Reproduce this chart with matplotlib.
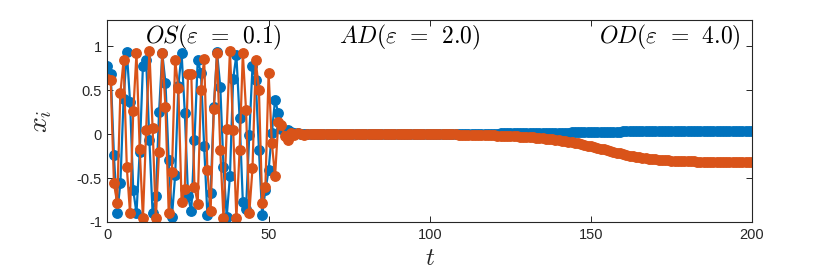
import matplotlib
matplotlib.use("Agg")
import matplotlib.pyplot as plt
import numpy as np

# ---------------- data ----------------
t = list(range(0, 201))

blue_head = [0.78, 0.69, -0.24, -0.90, -0.56, 0.40, 0.94, 0.37, -0.64, -0.90,
             -0.20, 0.78, 0.84, -0.07, -0.90, -0.71, 0.25, 0.92, 0.58, -0.30,
             -0.94, -0.47, 0.55, 0.92, 0.24, -0.71, -0.88, -0.07, 0.84, 0.70,
             -0.14, -0.92, -0.67, 0.31, 0.93, 0.54, -0.37, -0.94, -0.48, 0.63,
             0.90, 0.18, -0.77, -0.85, -0.01, 0.77, 0.62, -0.18, -0.92, -0.64,
             -0.41, 0.01, 0.39, 0.24, 0.06, 0.03, 0.05, 0.02, 0.01]
blue_tail = [0.01, 0.005, 0.0, 0.0, 0.0, 0.0, 0.0, 0.0, 0.0, 0.0,
             0.0, 0.0, 0.0, 0.0, 0.0, 0.0, 0.0, 0.0, 0.0, 0.0,
             0.0, 0.0, 0.0, 0.0, 0.0, 0.0, 0.0, 0.0, 0.0, 0.0,
             0.0, 0.0, 0.0, 0.0, 0.0, 0.0, 0.0, 0.0, 0.0, 0.0,
             0.0, 0.0, 0.001, 0.001, 0.001, 0.001, 0.002, 0.002, 0.002, 0.002,
             0.003, 0.003, 0.003, 0.003, 0.004, 0.004, 0.004, 0.005, 0.005, 0.005,
             0.006, 0.006, 0.006, 0.007, 0.007, 0.008, 0.008, 0.008, 0.009, 0.009,
             0.010, 0.010, 0.011, 0.011, 0.012, 0.012, 0.013, 0.013, 0.014, 0.015,
             0.015, 0.016, 0.017, 0.017, 0.018, 0.019, 0.019, 0.020, 0.021, 0.022,
             0.022, 0.023, 0.024, 0.025, 0.025, 0.026, 0.027, 0.027, 0.028, 0.029,
             0.029, 0.030, 0.030, 0.031, 0.031, 0.032, 0.032, 0.033, 0.033, 0.033,
             0.034, 0.034, 0.034, 0.035, 0.035, 0.035, 0.035, 0.036, 0.036, 0.036,
             0.036, 0.036, 0.037, 0.037, 0.037, 0.037, 0.037, 0.037, 0.037, 0.038,
             0.038, 0.038, 0.038, 0.038, 0.038, 0.038, 0.038, 0.038, 0.038, 0.038,
             0.038, 0.038]

orange_head = [0.63, 0.62, -0.56, -0.78, 0.47, 0.84, -0.38, -0.90, 0.26, 0.92,
               -0.17, -0.96, 0.05, 0.95, 0.07, -0.96, -0.20, 0.92, 0.31, -0.90,
               -0.43, 0.84, 0.52, -0.77, -0.62, 0.69, 0.69, -0.60, -0.79, 0.50,
               0.86, -0.41, -0.88, 0.29, 0.92, -0.18, -0.96, 0.06, 0.95, 0.05,
               -0.96, -0.18, 0.92, 0.27, -0.90, -0.39, 0.84, 0.50, -0.78, -0.60,
               0.70, -0.10, -0.48, 0.14, 0.10, -0.02, -0.07, 0.01, -0.01]
orange_tail = [0.01, 0.0, -0.005, 0.0, 0.0, 0.0, 0.0, 0.0, 0.0, 0.0,
               0.0, 0.0, 0.0, 0.0, 0.0, 0.0, 0.0, 0.0, 0.0, 0.0,
               0.0, 0.0, 0.0, 0.0, 0.0, 0.0, 0.0, 0.0, 0.0, 0.0,
               0.0, 0.0, 0.0, 0.0, 0.0, 0.0, 0.0, 0.0, 0.0, 0.0,
               0.0, 0.0, -0.001, -0.001, -0.002, -0.002, -0.003, -0.003, -0.004, -0.004,
               -0.005, -0.006, -0.006, -0.007, -0.008, -0.009, -0.010, -0.011, -0.012, -0.013,
               -0.014, -0.015, -0.016, -0.018, -0.019, -0.021, -0.022, -0.024, -0.026, -0.028,
               -0.030, -0.032, -0.034, -0.037, -0.040, -0.043, -0.046, -0.050, -0.054, -0.058,
               -0.063, -0.068, -0.073, -0.079, -0.085, -0.092, -0.099, -0.106, -0.114, -0.122,
               -0.130, -0.139, -0.148, -0.157, -0.166, -0.175, -0.184, -0.193, -0.202, -0.211,
               -0.220, -0.228, -0.236, -0.244, -0.251, -0.258, -0.264, -0.270, -0.275, -0.280,
               -0.284, -0.288, -0.292, -0.295, -0.298, -0.300, -0.302, -0.304, -0.306, -0.307,
               -0.308, -0.309, -0.310, -0.311, -0.312, -0.312, -0.313, -0.313, -0.314, -0.314,
               -0.314, -0.315, -0.315, -0.315, -0.315, -0.316, -0.316, -0.316, -0.316, -0.316,
               -0.316, -0.317]

x_blue = blue_head + blue_tail
x_orange = orange_head + orange_tail

xticks = [0, 50, 100, 150, 200]
yticks = [-1, -0.5, 0, 0.5, 1]
ytick_labels = ["-1", "-0.5", "0", "0.5", "1"]
regime_labels = [r"$OS(\varepsilon\;\,=\;\,0.1)$", r"$AD(\varepsilon\;\,=\;\,2.0)$",
                 r"$OD(\varepsilon\;\,=\;\,4.0)$"]
regime_x = [32.7, 93.8, 196.5]
regime_ha = ["center", "center", "right"]

# ---------------- plot ----------------
plt.rcParams["mathtext.fontset"] = "cm"
plt.rcParams["font.family"] = ["Liberation Sans", "DejaVu Sans"]

fig = plt.figure(figsize=(8.30, 2.73), dpi=100)
ax = fig.add_axes([0.1295, 0.187, 0.7765, 0.74])

c_blue = "#0072BD"
c_orange = "#D95319"
l1, = ax.plot(t, x_blue, "-o", color=c_blue, lw=1.6, ms=6.8, mec=c_blue, mfc=c_blue)
l2, = ax.plot(t, x_orange, "-o", color=c_orange, lw=1.6, ms=6.8, mec=c_orange, mfc=c_orange)
l1.set_snap(False)
l2.set_snap(False)

ax.set_xlim(0, 200)
ax.set_ylim(-1, 1.3)
ax.set_xticks(xticks)
ax.set_yticks(yticks)
ax.set_yticklabels(ytick_labels)
ax.tick_params(direction="in", top=True, right=True, length=4, width=0.7,
               labelsize=10.5, colors="#262626", pad=4)
for s in ax.spines.values():
    s.set_color("#262626")
    s.set_linewidth(0.8)

ax.set_xlabel(r"$t$", fontsize=18, labelpad=3, color="#262626")
ax.set_ylabel(r"$x_i$", fontsize=20, labelpad=16, color="#262626")

for lab, xx, ha in zip(regime_labels, regime_x, regime_ha):
    ax.text(xx, 1.1, lab, ha=ha, va="center", fontsize=17, color="black")

fig.savefig("out.png", dpi=100)
